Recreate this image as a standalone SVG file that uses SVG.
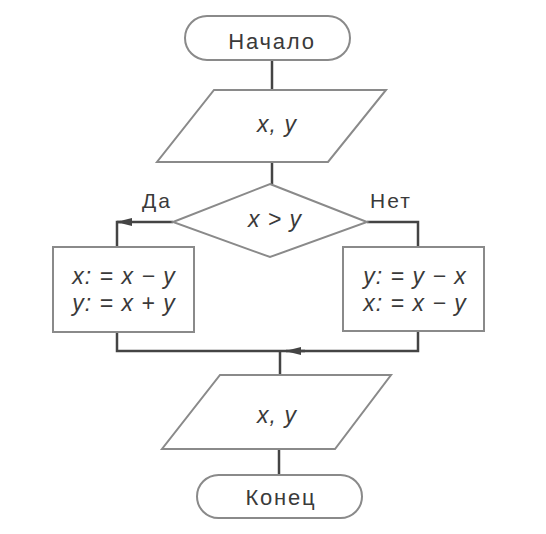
<svg xmlns="http://www.w3.org/2000/svg" width="546" height="534" viewBox="0 0 546 534">
<style>
.shape{fill:#fff;stroke:#8a8a8a;stroke-width:2}
.conn{fill:none;stroke:#444;stroke-width:2.5}
.t{font-family:"Liberation Sans",Arial,sans-serif;fill:#3a3a3a;text-anchor:middle}
.term{font-size:22px;letter-spacing:1.8px}
.lbl{font-size:21px;letter-spacing:2px}
.it{font-style:italic;font-size:23px;letter-spacing:1px}
</style>
<defs>
<marker id="arr" markerWidth="16" markerHeight="8" refX="15" refY="4" orient="auto" markerUnits="userSpaceOnUse">
<path d="M0,0 L16,4 L0,8 Z" fill="#444"/>
</marker>
</defs>
<rect width="546" height="534" fill="#fff"/>
<g id="connectors">
<line class="conn" x1="272" y1="60" x2="272" y2="90"/>
<line class="conn" x1="272" y1="162" x2="272" y2="184"/>
<path class="conn" d="M173,222 H117" marker-end="url(#arr)"/>
<path class="conn" d="M121,222 H117 V247"/>
<path class="conn" d="M367,222 H418 V247"/>
<path class="conn" d="M117,332 V351 H418 V331"/>
<path class="conn" d="M305,351 H286" marker-end="url(#arr)"/>
<line class="conn" x1="280" y1="351" x2="280" y2="375"/>
<line class="conn" x1="279" y1="449" x2="279" y2="475"/>
</g>
<g id="start">
<rect class="shape" x="185" y="16" width="165" height="44" rx="22"/>
<text class="t term" x="272" y="49">Начало</text>
</g>
<g id="input">
<polygon class="shape" points="214,90 386,90 328,162 157,162"/>
<text class="t it" x="277" y="132">x, y</text>
</g>
<g id="decision">
<polygon class="shape" points="270,184 367,222 270,257 173,222"/>
<text class="t it" x="275" y="227">x &gt; y</text>
</g>
<g id="label-yes"><text class="t lbl" x="157" y="208">Да</text></g>
<g id="label-no"><text class="t lbl" x="391" y="208">Нет</text></g>
<g id="left-box">
<rect class="shape" x="53" y="247" width="141" height="85"/>
<text class="t it" x="124" y="284">x: = x − y</text>
<text class="t it" x="124" y="311">y: = x + y</text>
</g>
<g id="right-box">
<rect class="shape" x="343" y="247" width="141" height="84"/>
<text class="t it" x="415" y="284">y: = y − x</text>
<text class="t it" x="415" y="311">x: = x − y</text>
</g>
<g id="output">
<polygon class="shape" points="220,375 391,375 335,449 162,449"/>
<text class="t it" x="277" y="423">x, y</text>
</g>
<g id="end">
<rect class="shape" x="197" y="475" width="165" height="43" rx="21.5"/>
<text class="t term" x="281" y="505">Конец</text>
</g>
</svg>
